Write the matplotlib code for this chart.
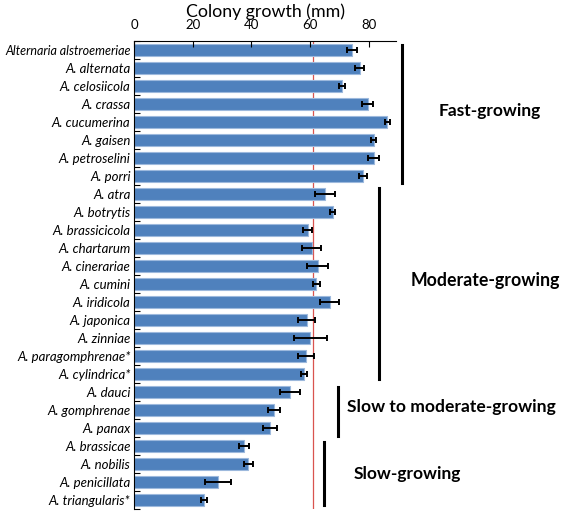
import matplotlib
matplotlib.use("Agg")
import matplotlib.pyplot as plt
import numpy as np

species = ["Alternaria alstroemeriae", "A. alternata", "A. celosiicola", "A. crassa",
           "A. cucumerina", "A. gaisen", "A. petroselini", "A. porri",
           "A. atra", "A. botrytis", "A. brassicicola", "A. chartarum", "A. cinerariae",
           "A. cumini", "A. iridicola", "A. japonica", "A. zinniae",
           "A. paragomphrenae*", "A. cylindrica*",
           "A. dauci", "A. gomphrenae", "A. panax",
           "A. brassicae", "A. nobilis", "A. penicillata", "A. triangularis*"]
growth = [74.2, 76.9, 70.8, 79.6, 86.4, 81.7, 81.7, 78.0,
          65.1, 67.7, 59.2, 60.6, 62.6, 62.2, 66.7, 58.8, 60.1, 58.6, 57.8,
          53.3, 47.7, 46.3,
          37.5, 38.9, 28.7, 23.8]
errors = [1.7, 1.5, 1.0, 2.0, 0.8, 0.8, 1.9, 1.25,
          3.3, 0.9, 1.5, 3.2, 3.6, 1.1, 3.2, 3.0, 5.7, 2.6, 1.0,
          3.4, 1.9, 2.3,
          1.8, 1.5, 4.5, 1.1]
xticks = [0, 20, 40, 60, 80]
threshold = 61
groups = ["Fast-growing", "Moderate-growing", "Slow to moderate-growing", "Slow-growing"]

plt.rcParams['font.family'] = ['Lato', 'DejaVu Sans']

fig = plt.figure(figsize=(5.61, 5.12), dpi=100)
W, H = 561, 512
x0, x1 = 134, 396
ytop, ybot = 41, 509
ax = fig.add_axes([x0 / W, 1 - ybot / H, (x1 - x0) / W, (ybot - ytop) / H])

y = np.arange(len(species))
ax.barh(y, growth, height=0.66, color="#4F81BD", edgecolor="#9DB9DD", linewidth=0.8,
        xerr=errors, error_kw=dict(ecolor="black", elinewidth=1.4, capsize=2.2, capthick=1.4))
ax.axvline(threshold, color="#D9534F", linewidth=0.9, zorder=0)

ax.set_xlim(0, 89.3)
ax.set_ylim(len(species) - 0.5, -0.5)
ax.xaxis.tick_top()
ax.xaxis.set_label_position("top")
ax.set_xticks(xticks)
ax.tick_params(axis="x", direction="in", length=4, width=0.8, labelsize=9.5, pad=7.5)
ax.set_xlabel("Colony growth (mm)", fontsize=12.8, labelpad=1.5)
ax.set_yticks(y)
ax.set_yticklabels(species, fontstyle="italic", fontsize=9.5)
ax.get_yticklabels()[0].set_fontsize(9.0)
ax.tick_params(axis="y", length=0, pad=2.5)
ax.set_yticks(np.arange(len(species) + 1) - 0.5, minor=True)
ax.tick_params(axis="y", which="minor", direction="in", length=4, width=0.8)
for s in ["right", "bottom"]:
    ax.spines[s].set_visible(False)
for s in ["left", "top"]:
    ax.spines[s].set_linewidth(0.8)

brackets = [(91.2, -0.28, 7.37), (83.6, 7.67, 18.28), (69.6, 18.7, 21.44), (64.8, 21.76, 25.28)]
for bx, ya, yb in brackets:
    ax.plot([bx, bx], [ya, yb], color="black", linewidth=2.2, clip_on=False)

ax.text(103.9, 3.39, groups[0], fontsize=12.5, fontweight="bold", va="center", ha="left")
ax.text(94.3, 12.78, groups[1], fontsize=12.8, fontweight="bold", va="center", ha="left")
ax.text(72.5, 19.82, groups[2], fontsize=12.6, fontweight="bold", va="center", ha="left")
ax.text(75.0, 23.56, groups[3], fontsize=12.5, fontweight="bold", va="center", ha="left")

fig.savefig("out.png", dpi=100)
